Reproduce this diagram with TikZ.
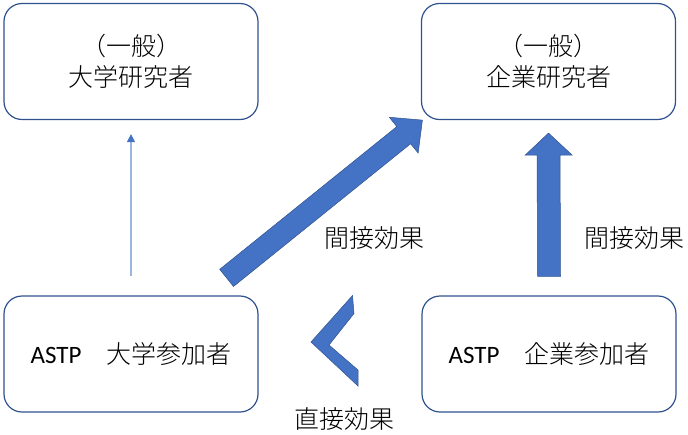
\documentclass[tikz,border=0pt]{standalone}
\usepackage{fontspec}
\setmainfont{Carlito}
\newfontfamily\jp{Noto Sans CJK JP Light}
\usetikzlibrary{calc,arrows.meta}
\definecolor{boxline}{HTML}{2F528F}
\definecolor{fillone}{HTML}{4472C4}
\definecolor{thinline}{HTML}{9DB3E0}
\tikzset{
  roundbox/.style={draw=boxline, line width=1.2pt, rounded corners=18pt,
    minimum width=254pt, minimum height=116pt, inner sep=0pt, align=center,
    font=\jp\fontsize{25}{31}\selectfont},
  lbl/.style={inner sep=0pt, font=\jp\fontsize{25}{31}\selectfont},
  fatstyle/.style={fill=fillone, draw=boxline, line width=0.5pt, line join=miter},
  thinarrow/.style={draw=thinline, line width=1.1pt,
    -{Triangle[width=8pt,length=8pt,color=fillone]}}
}
% #1 start, #2 end, #3 shaft half width, #4 head half width, #5 head length
\newcommand{\fatarrow}[5]{%
  \coordinate (fa-n) at ($(#2)!#5!(#1)$);
  \draw[fatstyle] ($(#1)!#3!90:(#2)$) -- ($(fa-n)!#3!-90:(#1)$) -- ($(fa-n)!#4!-90:(#1)$)
    -- (#2) -- ($(fa-n)!#4!90:(#1)$) -- ($(fa-n)!#3!90:(#1)$) -- ($(#1)!#3!-90:(#2)$) -- cycle;}
\begin{document}
\begin{tikzpicture}[x=1pt,y=-1pt]
\useasboundingbox (0,0) rectangle (688,434);
\node[roundbox] (ur) at (131,61.5) {（一般）\\大学研究者};
\node[roundbox] (ir) at (548.5,61.5) {（一般）\\企業研究者};
\node[roundbox] (up) at (131,354) {{\rmfamily ASTP}\hspace{25pt}大学参加者};
\node[roundbox] (ip) at (549,354) {{\rmfamily ASTP}\hspace{25pt}企業参加者};
% thin arrow
\draw[thinarrow, shorten <=19pt, shorten >=14pt] (up.north) -- (ur.south);
% diagonal fat arrow
\coordinate (d1) at ($(up.north east)+(-32,-17.5)$);
\coordinate (d2) at ($(ir.south west)+(1.5,0)$);
\fatarrow{d1}{d2}{11pt}{23pt}{24pt}
% vertical fat arrow
\coordinate (v1) at ($(ip.north)+(0,-19)$);
\coordinate (v2) at ($(ir.south)+(0,13)$);
\fatarrow{v1}{v2}{11.5pt}{23.5pt}{22pt}
% chevron
\draw[fatstyle] (311,342) -- (352.5,295.5) -- (354,313.5) -- (329,345) -- (358,370) -- (358,386) -- cycle;
% labels
\node[lbl] (l1) at (374,238) {間接効果};
\node[lbl] (l2) at (634,238) {間接効果};
\node[lbl] (l3) at (344,419) {直接効果};
\end{tikzpicture}
\end{document}
